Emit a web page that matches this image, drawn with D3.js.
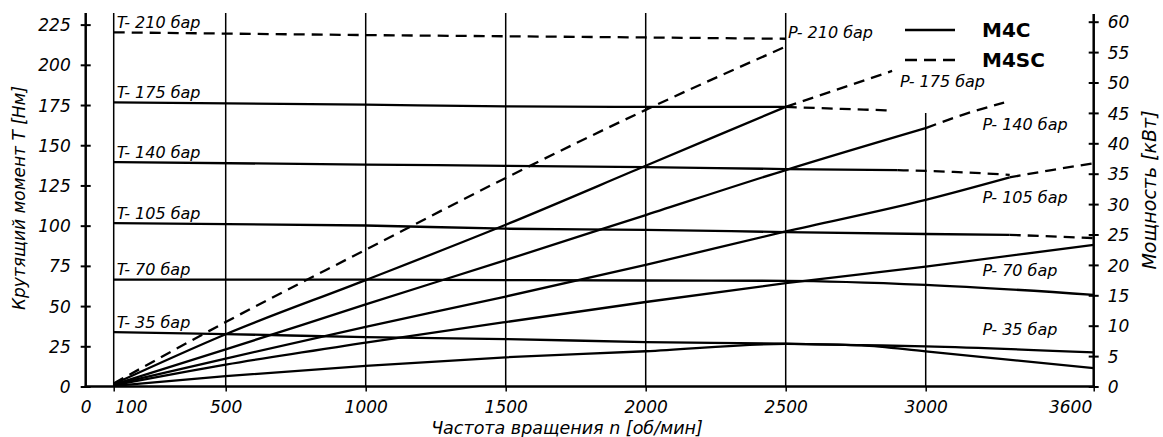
<!DOCTYPE html>
<html>
<head>
<meta charset="utf-8">
<script src="https://cdn.jsdelivr.net/npm/d3@7"></script>
<style>
  body { margin: 0; background: #fff; }
  svg text { font-family: "DejaVu Sans", sans-serif; fill: #000; }
</style>
</head>
<body>
<svg id="chart" width="1163" height="437"></svg>
<script>
// ---- Axis ticks ----
const rpmTicks = [0, 100, 500, 1000, 1500, 2000, 2500, 3000, 3600];
const torqueTicks = [0, 25, 50, 75, 100, 125, 150, 175, 200, 225];
const powerTicks = [0, 5, 10, 15, 20, 25, 30, 35, 40, 45, 50, 55, 60];
const gridRpm = [100, 500, 1000, 1500, 2000, 2500, 3000];

// ---- Torque curves, [rpm, Nm] ----
const torque210M4SC = [[100, 220.2], [1000, 218.5], [2000, 217.0], [2500, 216.2]];
const torque175M4C  = [[100, 176.6], [1000, 175.2], [1500, 174.2], [2000, 173.8], [2500, 173.8]];
const torque175M4SC = [[2500, 173.8], [2700, 172.6], [2880, 171.6]];
const torque140M4C  = [[100, 139.5], [1000, 138.0], [1500, 137.2], [2000, 136.4], [2500, 135.2], [2900, 134.5]];
const torque140M4SC = [[2900, 134.5], [3100, 133.4], [3300, 131.6]];
const torque105M4C  = [[100, 101.6], [1000, 100.1], [1500, 98.1], [2000, 97.4], [2500, 96.0], [3000, 94.8], [3300, 94.3]];
const torque105M4SC = [[3300, 94.3], [3600, 92.3]];
const torque70M4C   = [[100, 66.4], [1000, 66.4], [2000, 65.9], [2500, 65.7], [3000, 63.2], [3600, 57.0]];
const torque35M4C   = [[100, 33.8], [500, 32.6], [1000, 30.7], [1500, 29.5], [2000, 27.6], [2500, 26.6], [2770, 25.6], [3000, 21.8], [3600, 11.4]];

// ---- Power curves, [rpm, kW] ----
const power210M4SC = [[100, 0.5], [500, 10.6], [1000, 22.5], [1500, 34.3], [2000, 45.5], [2500, 55.9]];
const power175M4C  = [[100, 0.4], [500, 8.6], [1000, 17.5], [1500, 26.6], [2000, 36.3], [2500, 46.0]];
const power175M4SC = [[2500, 46.0], [2880, 51.9]];
const power140M4C  = [[100, 0.3], [500, 6.1], [1000, 13.5], [1500, 20.8], [2000, 28.2], [2500, 35.6], [3000, 42.5]];
const power140M4SC = [[3000, 42.5], [3140, 44.8], [3280, 46.7]];
const power105M4C  = [[100, 0.3], [500, 4.6], [1000, 9.8], [1500, 14.8], [2000, 20.0], [2500, 25.5], [3000, 30.7], [3300, 34.4]];
const power105M4SC = [[3300, 34.4], [3450, 35.6], [3600, 36.7]];
const power70M4C   = [[100, 0.2], [500, 3.6], [1000, 7.2], [1500, 10.6], [2000, 13.9], [2500, 17.0], [3000, 19.7], [3600, 23.3]];
const power35M4C   = [[100, 0.1], [500, 1.7], [1000, 3.4], [1500, 4.8], [2000, 5.8], [2500, 7.0], [2770, 6.8], [3000, 6.6], [3600, 5.6]];

// ---- Curve labels ----
const torqueLabels = ["T- 210 бар", "T- 175 бар", "T- 140 бар", "T- 105 бар", "T- 70 бар", "T- 35 бар"];
const powerLabels  = ["P- 210 бар", "P- 175 бар", "P- 140 бар", "P- 105 бар", "P- 70 бар", "P- 35 бар"];
const legendNames  = ["M4C", "M4SC"];

// ---- Scales ----
const svg = d3.select("#chart");
const x  = d3.scaleLinear().domain([0, 3600]).range([85.7, 1093.7]);
const yT = d3.scaleLinear().domain([0, 225]).range([386.5, 24.6]);
const yP = d3.scaleLinear().domain([0, 60]).range([386.5, 21.7]);
const plotTop = 13;
const italic = sel => sel.style("font-style", "italic");

// Vertical grid lines (the 3000 line only runs through the lower part)
svg.append("g").selectAll("line").data(gridRpm).join("line")
  .attr("x1", d => x(d)).attr("x2", d => x(d))
  .attr("y1", d => d === 3000 ? yT(170) : plotTop)
  .attr("y2", yT(0))
  .attr("stroke", "#000").attr("stroke-width", 1.5);

// ---- Axes ----
const fontSize = 17;
const fmt = d3.format("d");

// Left torque axis with cross ticks
const gL = svg.append("g").attr("transform", `translate(${x(0)},0)`)
  .call(d3.axisLeft(yT).tickValues(torqueTicks).tickFormat(fmt).tickSize(5).tickPadding(10));
gL.select(".domain").remove();
gL.selectAll(".tick line").attr("x1", 5).attr("x2", -5).attr("stroke-width", 2);
gL.selectAll(".tick text").style("font-size", fontSize + "px").attr("dy", "0.36em").call(italic);

// Right power axis with cross ticks
const gR = svg.append("g").attr("transform", `translate(${x(3600)},0)`)
  .call(d3.axisRight(yP).tickValues(powerTicks).tickFormat(fmt).tickSize(5).tickPadding(9));
gR.select(".domain").remove();
gR.selectAll(".tick line").attr("x1", -5).attr("x2", 5).attr("stroke-width", 2);
gR.selectAll(".tick text").style("font-size", fontSize + "px").attr("dy", "0.36em").call(italic);

// Bottom rpm axis
const gB = svg.append("g").attr("transform", `translate(0,${yT(0)})`)
  .call(d3.axisBottom(x).tickValues(rpmTicks).tickFormat(fmt).tickSize(5).tickPadding(9));
gB.select(".domain").remove();
gB.selectAll(".tick line").attr("stroke-width", 1.5).attr("display", d => d === 0 ? "none" : null);
gB.selectAll(".tick text").style("font-size", fontSize + "px").attr("dy", "0.71em").call(italic)
  .attr("text-anchor", d => d === 100 ? "start" : d === 3600 ? "end" : "middle")
  .attr("dx", d => d === 100 ? 1 : d === 3600 ? -2 : 0);

// Axis lines
svg.append("line").attr("x1", x(0)).attr("x2", x(0)).attr("y1", plotTop).attr("y2", yT(0) + 1)
  .attr("stroke", "#000").attr("stroke-width", 2.5);
svg.append("line").attr("x1", x(3600)).attr("x2", x(3600)).attr("y1", plotTop + 1).attr("y2", yT(0) + 1)
  .attr("stroke", "#000").attr("stroke-width", 2.5);
svg.append("line").attr("x1", x(0) - 1).attr("x2", x(3600) + 1).attr("y1", yT(0)).attr("y2", yT(0))
  .attr("stroke", "#000").attr("stroke-width", 2.5);

// Axis titles
svg.append("text").attr("transform", `translate(25,198) rotate(-90)`)
  .attr("text-anchor", "middle").style("font-size", "17px").call(italic)
  .text("Крутящий момент T [Нм]");
svg.append("text").attr("transform", `translate(1156,190) rotate(-90)`)
  .attr("text-anchor", "middle").style("font-size", "19px").call(italic)
  .text("Мощность [кВт]");
svg.append("text").attr("x", 567).attr("y", 434)
  .attr("text-anchor", "middle").style("font-size", "17.5px").call(italic)
  .text("Частота вращения n [об/мин]");

// ---- Curves ----
const series = [
  { pts: torque210M4SC, y: yT, dashed: true },
  { pts: torque175M4C,  y: yT, dashed: false },
  { pts: torque175M4SC, y: yT, dashed: true },
  { pts: torque140M4C,  y: yT, dashed: false },
  { pts: torque140M4SC, y: yT, dashed: true },
  { pts: torque105M4C,  y: yT, dashed: false },
  { pts: torque105M4SC, y: yT, dashed: true },
  { pts: torque70M4C,   y: yT, dashed: false },
  { pts: torque35M4C,   y: yT, dashed: false },
  { pts: power210M4SC,  y: yP, dashed: true },
  { pts: power175M4C,   y: yP, dashed: false },
  { pts: power175M4SC,  y: yP, dashed: true },
  { pts: power140M4C,   y: yP, dashed: false },
  { pts: power140M4SC,  y: yP, dashed: true },
  { pts: power105M4C,   y: yP, dashed: false },
  { pts: power105M4SC,  y: yP, dashed: true },
  { pts: power70M4C,    y: yP, dashed: false },
  { pts: power35M4C,    y: yP, dashed: false }
];

const curves = svg.append("g").attr("fill", "none").attr("stroke", "#000")
  .attr("stroke-width", 2.3).attr("stroke-linejoin", "round");
series.forEach(s => {
  const line = d3.line().x(d => x(d[0])).y(d => s.y(d[1])).curve(d3.curveMonotoneX);
  curves.append("path").attr("d", line(s.pts))
    .attr("stroke-dasharray", s.dashed ? "11,7" : null);
});

// ---- Curve labels ----
const torqueStarts = [torque210M4SC, torque175M4C, torque140M4C, torque105M4C, torque70M4C, torque35M4C];
svg.append("g").selectAll("text").data(torqueLabels).join("text")
  .attr("x", x(100) + 3)
  .attr("y", (d, i) => yT(torqueStarts[i][0][1]) - 4.5)
  .style("font-size", "16px").call(italic).text(d => d);

// P labels anchored in [rpm, kW] space
const powerLabelAt = [[2508, 57.3], [2908, 49.3], [3203, 42.2], [3203, 30.1], [3203, 18.1], [3203, 8.5]];
svg.append("g").selectAll("text").data(powerLabels).join("text")
  .attr("x", (d, i) => x(powerLabelAt[i][0]))
  .attr("y", (d, i) => yP(powerLabelAt[i][1]))
  .style("font-size", "16px").call(italic).text(d => d);

// ---- Legend ----
const legend = svg.append("g");
legendNames.forEach((name, i) => {
  const ly = 30 + i * 30;
  legend.append("line").attr("x1", 905).attr("x2", 955).attr("y1", ly).attr("y2", ly)
    .attr("stroke", "#000").attr("stroke-width", 2.3)
    .attr("stroke-dasharray", i === 1 ? "12,7" : null);
  legend.append("text").attr("x", 982).attr("y", ly + 7)
    .style("font-size", "20px").style("font-weight", "bold").style("font-style", "normal")
    .text(name);
});
</script>
</body>
</html>
